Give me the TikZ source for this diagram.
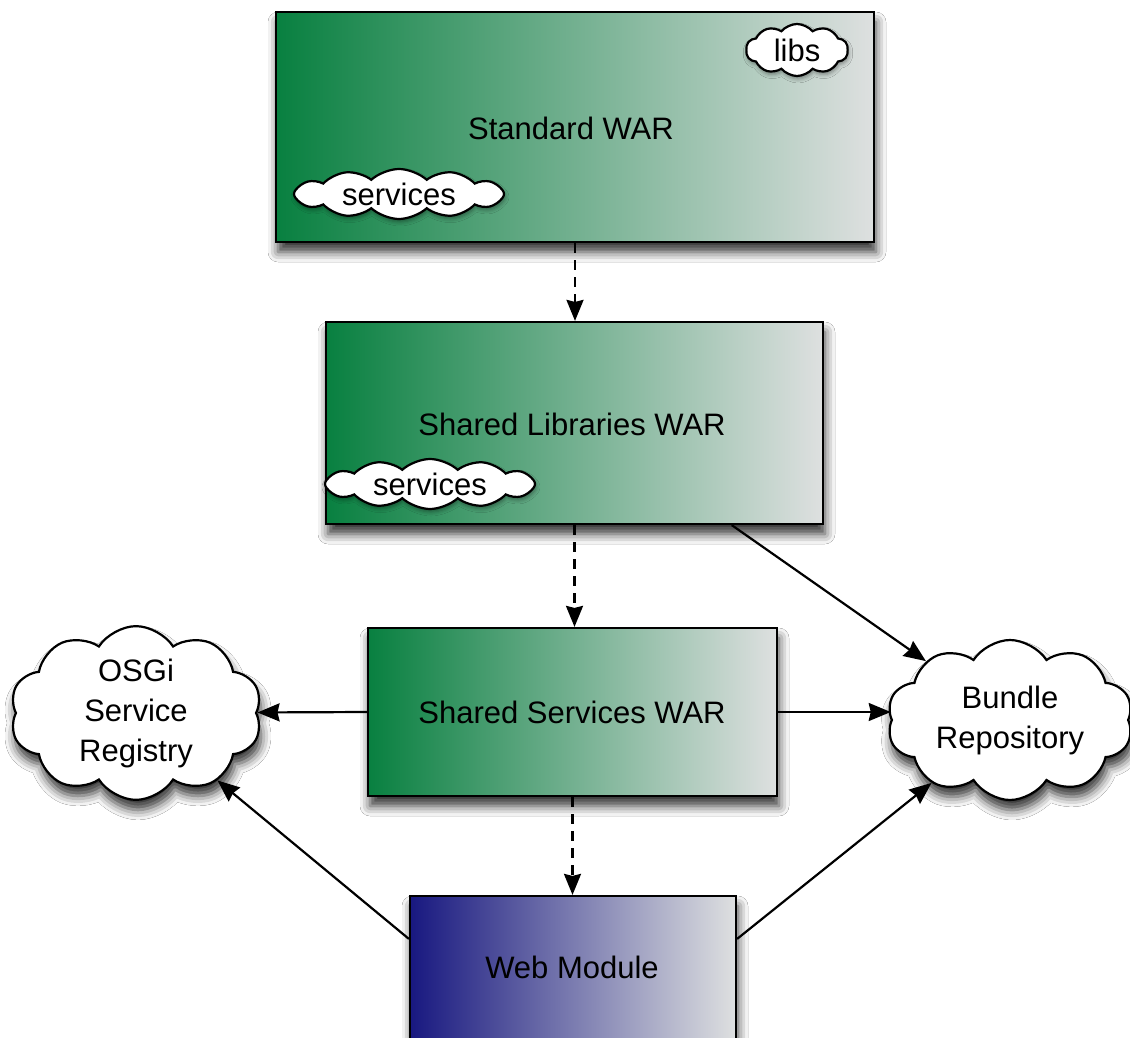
\documentclass[tikz,border=0pt]{standalone}
\usepackage{fontspec}
\setmainfont{Liberation Sans}
\usetikzlibrary{shapes.symbols,shadows.blur,arrows.meta,calc}
\definecolor{gdark}{RGB}{8,128,64}
\definecolor{bdark}{RGB}{24,24,128}
\definecolor{lgrey}{RGB}{222,224,224}
\tikzset{
  shad/.style={blur shadow={shadow xshift=2pt, shadow yshift=-10pt, shadow blur radius=10pt, shadow opacity=80}},
  box/.style={draw=black, line width=2.2pt, rectangle, inner sep=0pt, shad},
  gbox/.style={box, left color=gdark, right color=lgrey},
  bbox/.style={box, left color=bdark, right color=lgrey},
  bigcloud/.style={cloud, cloud puffs=10, cloud puff arc=115, cloud ignores aspect,
    draw=black, line width=2.2pt, fill=white, align=center, inner sep=0pt,
    font=\fontsize{31}{40}\selectfont, shad},
  smallcloud/.style={cloud, cloud puffs=12, cloud puff arc=85, cloud ignores aspect,
    draw=black, line width=2.2pt, fill=white, inner sep=0pt,
    font=\fontsize{31}{36}\selectfont,
    blur shadow={shadow xshift=1pt, shadow yshift=-3pt, shadow blur radius=4pt, shadow opacity=40}},
  lbl/.style={font=\fontsize{31}{36}\selectfont, inner sep=0pt},
  dep/.style={line width=2.2pt, dash pattern=on 10pt off 7pt, -{Stealth[length=21pt,width=17pt,inset=2pt]}},
  arr/.style={line width=2.2pt, -{Stealth[length=22pt,width=18pt,inset=2pt]}},
}
\begin{document}
\begin{tikzpicture}[x=1pt,y=-1pt]
\useasboundingbox (0,0) rectangle (1130,1038);
\clip (0,0) rectangle (1130,1038);
\fill[white] (0,0) rectangle (1130,1038);

% boxes
\node[gbox, minimum width=598pt, minimum height=230pt] (std) at (575,127) {};
\node[lbl] (stdl) at (571,128) {Standard WAR};
\node[smallcloud, cloud puffs=10, cloud puff arc=100, minimum width=102pt, minimum height=52pt] (libs) at (797,50) {libs};
\node[smallcloud, minimum width=210pt, minimum height=50pt] (svc1) at (399,194) {services};

\node[gbox, minimum width=497pt, minimum height=202pt] (slib) at (574.5,423) {};
\node[lbl] (slibl) at (572,424) {Shared Libraries WAR};
\node[smallcloud, minimum width=210pt, minimum height=50pt] (svc2) at (430,484) {services};

\node[gbox, minimum width=409pt, minimum height=168pt] (ssvc) at (572.5,712) {};
\node[lbl] (ssvcl) at (572,712) {Shared Services WAR};

\node[bbox, minimum width=326pt, minimum height=170pt] (web) at (573,981) {};
\node[lbl] (webl) at (572,967) {Web Module};

% clouds
\node[bigcloud, minimum width=252pt, minimum height=165pt] (osgi) at (136,713) {OSGi\\Service\\Registry};
\node[bigcloud, minimum width=246pt, minimum height=160pt] (bundle) at (1010,720) {Bundle\\Repository};

% connectors
\draw[dep] (std.south) -- (std.south |- slib.north);
\draw[dep] (slib.south) -- (slib.south |- ssvc.north);
\draw[dep] (ssvc.south) -- (ssvc.south |- web.north);
\draw[arr] (slib.-33) -- (bundle);
\draw[arr] (ssvc.west) -- (osgi);
\draw[arr] (ssvc.east) -- (ssvc.east -| bundle.west);
\coordinate (wl) at ($(web.north west)+(0,44)$);
\coordinate (wr) at ($(web.north east)+(0,44)$);
\draw[arr] (wl) -- (osgi);
\draw[arr] (wr) -- (bundle);
\end{tikzpicture}
\end{document}
